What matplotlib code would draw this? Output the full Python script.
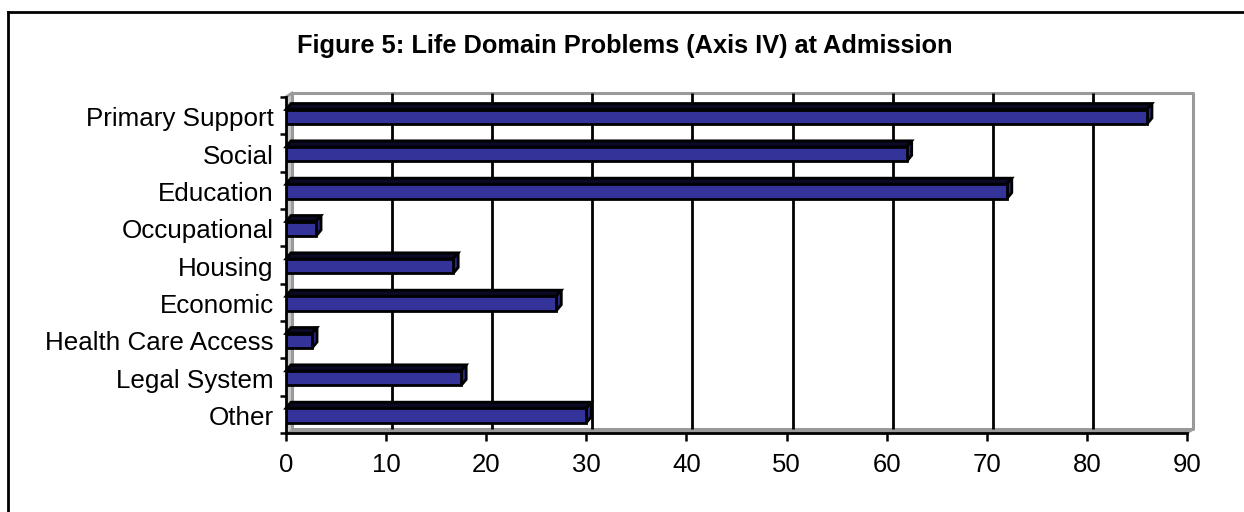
import matplotlib
matplotlib.use("Agg")
import matplotlib.pyplot as plt
import matplotlib.transforms as mtransforms
from matplotlib.patches import Polygon
from matplotlib.lines import Line2D

categories = ["Primary Support", "Social", "Education", "Occupational", "Housing",
              "Economic", "Health Care Access", "Legal System", "Other"]
values = [86, 62, 72, 3, 16.7, 27, 2.6, 17.5, 30]
x_ticks = [0, 10, 20, 30, 40, 50, 60, 70, 80, 90]
title = "Figure 5: Life Domain Problems (Axis IV) at Admission"

plt.rcParams['font.family'] = ['Liberation Sans', 'DejaVu Sans']

W, H = 1244, 512
fig = plt.figure(figsize=(W / 100, H / 100), dpi=100)
L, R, T, B = 286, 1187, 97, 433
ax = fig.add_axes([L / W, 1 - B / H, (R - L) / W, (B - T) / H])
ax.set_xlim(0, 90)
ax.set_ylim(len(categories), 0)

# pixel -> data conversions
px_x = 90 / (R - L)
px_y = len(categories) / (B - T)

# 3D wall offset (back plane)
wdx, wdy = 6, 4
back = ax.transData + mtransforms.ScaledTranslation(wdx / 100, wdy / 100, fig.dpi_scale_trans)
wall_gray = '#9a9a9a'

n = len(categories)
# left wall and floor strips
ax.add_patch(Polygon([(0, 0), (wdx * px_x, -wdy * px_y), (wdx * px_x, n - wdy * px_y), (0, n)],
                     closed=True, facecolor='#c8c8c8', edgecolor='none', clip_on=False, zorder=1))
ax.add_patch(Polygon([(0, n), (90, n), (90 + wdx * px_x, n - wdy * px_y), (wdx * px_x, n - wdy * px_y)],
                     closed=True, facecolor=wall_gray, edgecolor='none', clip_on=False, zorder=1))
# back wall outline
ax.plot([0, 90, 90, 0, 0], [0, 0, n, n, 0], color=wall_gray, lw=2.2, transform=back, clip_on=False, zorder=1.5)
ax.plot([0, wdx * px_x], [0, -wdy * px_y], color=wall_gray, lw=2, clip_on=False, zorder=1.5)
ax.plot([90, 90 + wdx * px_x], [n, n - wdy * px_y], color=wall_gray, lw=2, clip_on=False, zorder=1.5)
# gridlines in back plane
ax.vlines(x_ticks[1:-1], 0, n, colors='black', lw=2.0, transform=back, clip_on=False, zorder=2)

# bars with 3D faces
h = 0.39
bdx, bdy = 5 * px_x, 6 * px_y
ys = [i + 0.53 for i in range(n)]
ax.barh(ys, values, height=h, color='#333399', edgecolor='black', lw=2.0, zorder=4)
for y, v in zip(ys, values):
    top = y - h / 2
    bot = y + h / 2
    ax.add_patch(Polygon([(0, top), (v, top), (v + bdx, top - bdy), (bdx, top - bdy)], closed=True,
                         facecolor='#0a0a25', edgecolor='black', lw=2.0, zorder=3.5, clip_on=False))
    ax.add_patch(Polygon([(v, top), (v + bdx, top - bdy), (v + bdx, bot - bdy), (v, bot)], closed=True,
                         facecolor='#2a2a85', edgecolor='black', lw=2.0, zorder=3.6, clip_on=False))

for s in ['top', 'right']:
    ax.spines[s].set_visible(False)
for s in ['left', 'bottom']:
    ax.spines[s].set_linewidth(2)
    ax.spines[s].set_zorder(5)

ax.set_xticks(x_ticks)
ax.set_xticklabels([str(t) for t in x_ticks], fontsize=18.5)
ax.tick_params(axis='x', direction='out', length=5.5, width=1.8, pad=9)
ax.set_yticks(ys)
ax.set_yticklabels(categories, fontsize=18.7)
ax.tick_params(axis='y', which='major', length=0, pad=9)
ax.set_yticks(list(range(n + 1)), minor=True)
ax.tick_params(axis='y', which='minor', direction='out', length=4, width=1.8)
ax.set_facecolor('none')

fig.text(625 / W, 1 - 46 / H, title, ha='center', va='center', fontsize=18.3, fontweight='bold')

# outer frame (left and top visible)
fig.add_artist(Line2D([8 / W, 8 / W], [0, 1 - 12 / H], color='black', lw=2, transform=fig.transFigure))
fig.add_artist(Line2D([8 / W, 1], [1 - 12 / H, 1 - 12 / H], color='black', lw=2, transform=fig.transFigure))

fig.savefig('out.png', dpi=100)
